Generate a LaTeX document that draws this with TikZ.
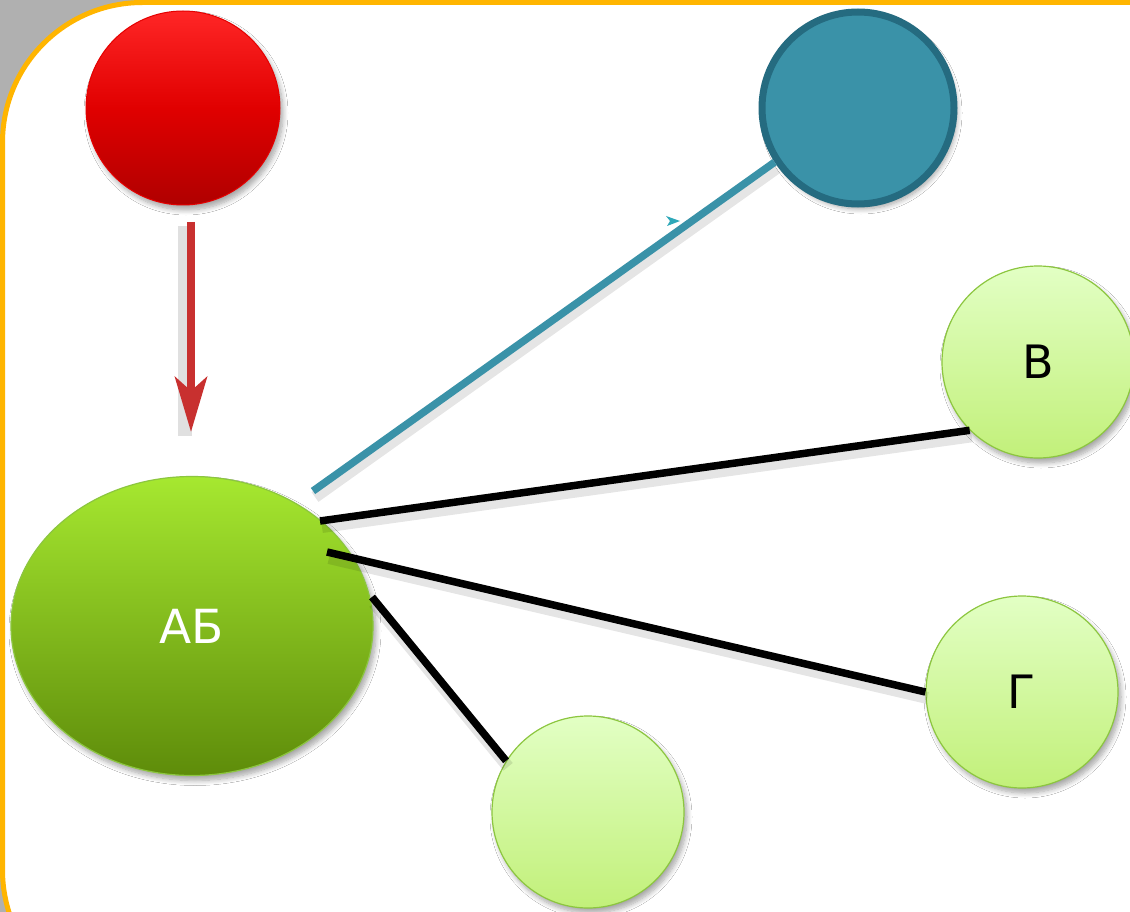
\documentclass[tikz,border=0pt]{standalone}
\usepackage{fontspec}
\setmainfont{DejaVu Sans}
\usetikzlibrary{shadows.blur,arrows.meta,shapes.geometric}
\definecolor{bggray}{HTML}{B0B0B0}
\definecolor{frameorange}{HTML}{FFB500}
\definecolor{tealfill}{HTML}{3A92A8}
\definecolor{tealdark}{HTML}{256B80}
\definecolor{arrowred}{HTML}{C8302F}
\definecolor{lgtop}{HTML}{E2FFC4}
\definecolor{lgbot}{HTML}{C2F07A}
\definecolor{lgborder}{HTML}{8CC63F}
\definecolor{dgtop}{HTML}{A6E830}
\definecolor{dgbot}{HTML}{5E8C0A}
\definecolor{redtop}{HTML}{FF2626}
\definecolor{redbot}{HTML}{B00000}
\begin{document}
\begin{tikzpicture}[x=1pt,y=-1pt,
  shad/.style={blur shadow={shadow xshift=3pt,shadow yshift=-5pt,shadow blur steps=8,shadow blur radius=5pt,shadow opacity=35}},
  lshad/.style={preaction={draw=black,opacity=0.10,line width=12pt,transform canvas={xshift=2pt,yshift=-6pt}}},
  redball/.style={circle,minimum size=194pt,inner sep=0pt,draw=red!90!black,line width=1pt,top color=redtop,bottom color=redbot,middle color=red!88!black,shad},
  tealball/.style={circle,minimum size=192pt,inner sep=0pt,draw=tealdark,line width=7pt,fill=tealfill,shad},
  lightball/.style={circle,minimum size=192pt,inner sep=0pt,draw=lgborder,line width=1.2pt,top color=lgtop,bottom color=lgbot,shad,font=\fontsize{46}{50}\selectfont},
  bigell/.style={ellipse,minimum width=362pt,minimum height=299pt,inner sep=0pt,draw=lgborder,line width=1.2pt,top color=dgtop,bottom color=dgbot,shad,text=white,font=\fontsize{47}{52}\selectfont},
  blackline/.style={line width=7.5pt,black,lshad},
  tealline/.style={line width=7.5pt,tealfill,lshad}]
\useasboundingbox (0,0) rectangle (1130,912);
\fill[bggray] (0,0) rectangle (1130,912);
\draw[frameorange,line width=5pt,fill=white,rounded corners=140pt] (2.5,2.5) rectangle (1300,1010);

\node[redball] (red) at (183,108) {};
\node[tealball] (teal) at (858,108) {};
\node[bigell] (ab) at (192,626) {АБ};
\node[lightball] (v) at (1038,362) {В};
\node[lightball] (g) at (1022,692) {Г};
\node[lightball] (d) at (588,812) {};

\coordinate (astart) at (191,222);
\coordinate (aend) at (191,432);
\coordinate (p1) at (313,491);
\coordinate (p2) at (320,521);
\coordinate (p3) at (327,552);
\coordinate (p4) at (372,597);

\draw[arrowred,line width=8pt,-{Stealth[length=55pt,width=32pt,inset=14pt]},
  preaction={draw=black,opacity=0.12,line width=14pt,transform canvas={xshift=-6pt,yshift=-4pt},-{}}] (astart) -- (aend);

\draw[tealline] (p1) -- (teal.213);
\fill[tealfill!80!cyan] (666,216) -- (680,221) -- (667,226) -- (670,221) -- cycle;
\draw[blackline] (p2) -- (v.225);
\draw[blackline] (p3) -- (g.180);
\draw[blackline] (p4) -- (d.148);
\end{tikzpicture}
\end{document}
